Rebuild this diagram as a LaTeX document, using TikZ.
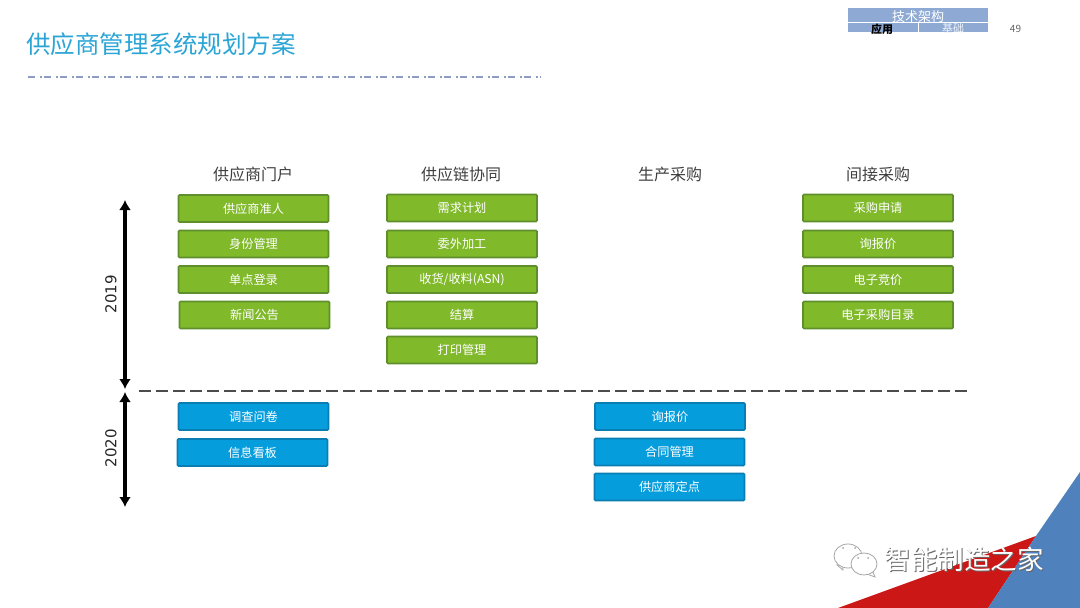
\documentclass[tikz,border=0pt]{standalone}
\usepackage{fontspec}
\setmainfont{Noto Sans CJK SC}
\newfontfamily\yearfont{DejaVu Sans}
\usetikzlibrary{arrows.meta}
\definecolor{titleblue}{HTML}{2BA5D6}
\definecolor{rulegray}{HTML}{8C9CC4}
\definecolor{tabblue}{HTML}{8EAAD4}
\definecolor{boxgreen}{HTML}{80B92A}
\definecolor{edgegreen}{HTML}{5E8F2C}
\definecolor{boxblue}{HTML}{069DDD}
\definecolor{edgeblue}{HTML}{0A7DB2}
\definecolor{cornerred}{HTML}{CB1816}
\definecolor{cornerblue}{HTML}{4F81BD}
\newcommand{\markshadow}[1]{\rlap{\kern1pt\raisebox{-1pt}{\textcolor{black!60}{#1}}}#1}
\tikzset{
	planbox/.style={rectangle,draw,line width=1.6pt,rounded corners=1pt,text=white,
		minimum width=150pt,minimum height=27pt,inner sep=0pt,font=\fontsize{12.2}{13}\selectfont},
	greenbox/.style={planbox,fill=boxgreen,draw=edgegreen},
	bluebox/.style={planbox,fill=boxblue,draw=edgeblue},
	header/.style={text=black!75,inner sep=0pt,font=\fontsize{16}{17}\selectfont},
	yearlabel/.style={text=black!85,inner sep=0pt,rotate=90,font=\yearfont\fontsize{15}{16}\selectfont},
	timespan/.style={line width=3.2pt,{Latex[length=10pt,width=12pt]}-{Latex[length=10pt,width=12pt]}}
}
\begin{document}
\begin{tikzpicture}[x=1pt,y=-1pt]
		\useasboundingbox (0,0) rectangle (1080,608);
		\fill[white] (0,0) rectangle (1080,608);

		% corner
		\fill[cornerred] (838,608) -- (1036,536) -- (988,608) -- cycle;
		\fill[cornerblue] (1080,472) -- (1036,536) -- (988,608) -- (1080,608) -- cycle;

		% title
		\node[anchor=west,inner sep=0pt,text=titleblue,font=\fontsize{24.5}{26}\selectfont] (title) at (26,44) {供应商管理系统规划方案};
		\coordinate (ruleL) at (28,77);
		\coordinate (ruleR) at (541,77);
		\draw[rulegray,line width=1.6pt,dash pattern=on 7pt off 5pt on 2pt off 2pt] (ruleL) -- (ruleR);

		% tab
		\begin{scope}[every node/.style={inner sep=0pt,fill=tabblue}]
		\node[minimum width=140pt,minimum height=13.5pt] (tabtop) at (918,15) {};
		\node[minimum width=70pt,minimum height=9.5pt] (tableft) at (883,27.5) {};
		\node[minimum width=69pt,minimum height=9.5pt] (tabright) at (953.5,27.5) {};
		\end{scope}
		\node[inner sep=0pt,text=white,font=\fontsize{13}{14}\selectfont] at (918,16.5) {技术架构};
		\node[inner sep=0pt,font=\fontsize{11}{12}\selectfont\bfseries] at (882,29) {应用};
		\node[inner sep=0pt,text=white!85!tabblue,font=\fontsize{11}{12}\selectfont] at (953,28) {基础};
		\node[inner sep=0pt,text=black!60,font=\fontsize{10}{11}\selectfont] (page) at (1015.5,28.5) {49};

		% headers
		\begin{scope}[every node/.style={header}]
		\node (portal) at (253,174.5) {供应商门户};
		\node (chain) at (461,174.5) {供应链协同};
		\node (direct) at (670,174.5) {生产采购};
		\node (indirect) at (878,174.5) {间接采购};
		\end{scope}

		% 2019
		\begin{scope}[every node/.style={greenbox}]
		\node (A1) at (253.5,208.5) {供应商准人};
		\node (A2) at (253.5,244) {身份管理};
		\node (A3) at (253.5,279.5) {单点登录};
		\node (A4) at (254.5,315) {新闻公告};
		\node (B1) at (462,208) {需求计划};
		\node (B2) at (462,244) {委外加工};
		\node (B3) at (462,279.5) {收货/收料(ASN)};
		\node (B4) at (462,315) {结算};
		\node (B5) at (462,350) {打印管理};
		\node (D1) at (878,208) {采购申请};
		\node (D2) at (878,244) {询报价};
		\node (D3) at (878,279.5) {电子竞价};
		\node (D4) at (878,315) {电子采购目录};
		\end{scope}

		% 2020
		\begin{scope}[every node/.style={bluebox}]
		\node (A5) at (253.5,416.5) {调查问卷};
		\node (A6) at (252.5,452.5) {信息看板};
		\node (C1) at (670,416.5) {询报价};
		\node (C2) at (669.5,452) {合同管理};
		\node (C3) at (669.5,487) {供应商定点};
		\end{scope}

		% timeline
		\coordinate (y19top) at (125,200);
		\coordinate (y19end) at (125,389);
		\coordinate (y20top) at (125,392);
		\coordinate (y20end) at (125,507);
		\draw[timespan] (y19top) -- (y19end);
		\draw[timespan] (y20top) -- (y20end);
		\node[yearlabel] (y19) at (111,294) {2019};
		\node[yearlabel] (y20) at (111,448) {2020};
		\coordinate (splitL) at (139,391);
		\coordinate (splitR) at (967,391);
		\draw[black!70,line width=1.8pt,dash pattern=on 12pt off 5pt] (splitL) -- (splitR);

		% watermark
		\begin{scope}[draw=black!35,fill=white,line width=0.8pt]
		\filldraw (837,565) -- (843,570) -- (843,564) -- cycle;
		\filldraw (848,556) ellipse (14pt and 12pt);
		\filldraw (873,572) -- (875,577) -- (867,574) -- cycle;
		\filldraw (864,564) ellipse (13pt and 11pt);
		\fill[black!35] (843,548) circle (1pt) (855,548) circle (1pt) (858,558) circle (1pt) (868,558) circle (1pt);
		\end{scope}
		\node[inner sep=0pt,text=white,font=\fontsize{26.5}{28}\selectfont] (mark) at (964,560) {\markshadow{智能制造之家}};
		\end{tikzpicture}
\end{document}
